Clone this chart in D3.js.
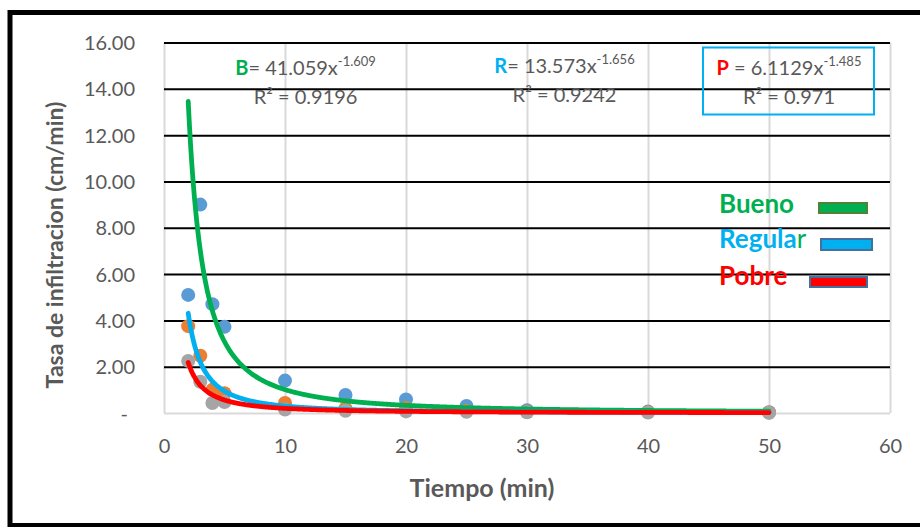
<!DOCTYPE html>
<html>
<head>
<meta charset="utf-8">
<script src="https://cdn.jsdelivr.net/npm/d3@7"></script>
<style>
  body { margin: 0; background: #fff; }
  svg { display: block; }
  text { font-family: Lato, "Open Sans", sans-serif; }
</style>
</head>
<body>
<div id="chart"></div>
<script>
// datos
const tiempo  = [2, 3, 4, 5, 10, 15, 20, 25, 30, 40, 50];
const bueno   = [5.1, 9.0, 4.7, 3.72, 1.4, 0.78, 0.58, 0.3, 0.12, 0.06, 0.03];
const regular = [3.75, 2.47, 1.0, 0.85, 0.43, 0.2, 0.22, 0.1, 0.05, 0.04, 0.02];
const pobre   = [2.25, 1.35, 0.43, 0.47, 0.15, 0.1, 0.07, 0.05, 0.03, 0.02, 0.01];

const xTicks = [0, 10, 20, 30, 40, 50, 60];
const yTicks = [0, 2, 4, 6, 8, 10, 12, 14, 16];

// ajustes potenciales y = a * x^b
const letras = ['B', 'R', 'P'];
const coefA  = [41.059, 13.573, 6.1129];
const expB   = [-1.609, -1.656, -1.485];
const r2     = ['0.9196', '0.9242', '0.971'];
const nombres = ['Bueno', 'Regular', 'Pobre'];

(function() {
    const width = 920,
          height = 527;
    const margin = {left: 164, right: 30, top: 42.5, bottom: 114};

    const ptColors = ['#5B9BD5', '#ED7D31', '#A5A5A5'];
    const lnColors = ['#00B050', '#00B0F0', '#FF0000'];
    const gray = '#595959';

    const xScale = d3.scaleLinear()
                    .domain([0, 60])
                    .range([margin.left, width - margin.right]);

    const yScale = d3.scaleLinear()
                    .domain([0, 16])
                    .range([height - margin.bottom, margin.top]);

    const svg = d3.select('#chart')
        .append('svg')
        .attr('width', width)
        .attr('height', height);

    // marco exterior
    svg.append('rect')
        .attr('x', 10).attr('y', 12.5)
        .attr('width', 1000).attr('height', 513)
        .attr('fill', 'none')
        .attr('stroke', '#000')
        .attr('stroke-width', 5);

    // lineas verticales de la cuadricula
    svg.append('g')
        .attr('transform', `translate(0, ${margin.top})`)
        .call(d3.axisBottom(xScale).tickValues(xTicks).tickSize(height - margin.bottom - margin.top).tickFormat(''))
        .call(g => g.select('.domain').remove())
        .call(g => g.selectAll('line').attr('stroke', '#D9D9D9').attr('stroke-width', 2));

    // lineas horizontales
    svg.append('g')
        .attr('transform', `translate(${margin.left}, 0)`)
        .call(d3.axisRight(yScale).tickValues(yTicks).tickSize(width - margin.left - margin.right).tickFormat(''))
        .call(g => g.select('.domain').remove())
        .call(g => g.selectAll('line')
            .attr('stroke', d => d === 0 ? '#D9D9D9' : '#000')
            .attr('stroke-width', 2));

    // eje y
    svg.append('g')
        .attr('transform', `translate(${margin.left - 29}, 0)`)
        .call(d3.axisLeft(yScale).tickValues(yTicks).tickSize(0)
            .tickFormat(d => d === 0 ? '-' : d.toFixed(2)))
        .call(g => g.select('.domain').remove())
        .call(g => g.selectAll('text')
            .attr('x', d => d === 0 ? -7 : 0)
            .attr('dy', '0.35em')
            .style('font-family', 'Lato, sans-serif')
            .style('font-size', '20px')
            .attr('fill', gray));

    // eje x
    svg.append('g')
        .attr('transform', `translate(0, ${height - margin.bottom})`)
        .call(d3.axisBottom(xScale).tickValues(xTicks).tickSize(0))
        .call(g => g.select('.domain').remove())
        .call(g => g.selectAll('text')
            .attr('y', 40)
            .attr('dy', 0)
            .style('font-family', 'Lato, sans-serif')
            .style('font-size', '20px')
            .attr('fill', gray));

    // titulos
    svg.append('text')
        .attr('x', 482).attr('y', 497)
        .attr('text-anchor', 'middle')
        .attr('font-weight', 'bold')
        .attr('font-size', 25)
        .attr('fill', gray)
        .text('Tiempo (min)');

    svg.append('text')
        .attr('transform', 'translate(63, 245) rotate(-90)')
        .attr('text-anchor', 'middle')
        .attr('font-weight', 'bold')
        .attr('font-size', 23)
        .attr('fill', gray)
        .text('Tasa de infiltracion (cm/min)');

    // puntos
    [bueno, regular, pobre].forEach((serie, i) => {
        svg.append('g')
            .selectAll('circle')
            .data(serie)
            .enter().append('circle')
            .attr('cx', (d, j) => xScale(tiempo[j]))
            .attr('cy', d => yScale(d))
            .attr('r', 7)
            .attr('fill', ptColors[i]);
    });

    // lineas de tendencia
    const xs = d3.range(2, 50.01, 0.1);
    const line = d3.line()
        .x(d => xScale(d[0]))
        .y(d => yScale(d[1]))
        .curve(d3.curveMonotoneX);

    coefA.forEach((a, i) => {
        svg.append('path')
            .datum(xs.map(x => [x, a * Math.pow(x, expB[i])]))
            .attr('d', line)
            .attr('fill', 'none')
            .attr('stroke', lnColors[i])
            .attr('stroke-width', 4.8)
            .attr('stroke-linecap', 'round');
    });

    // ecuaciones
    const eqX = [11.7, 33.1, 51.65];
    svg.append('rect')
        .attr('x', 703).attr('y', 47.5)
        .attr('width', 171).attr('height', 67)
        .attr('fill', 'none')
        .attr('stroke', '#00B0F0')
        .attr('stroke-width', 2);

    letras.forEach((l, i) => {
        const t = svg.append('text')
            .attr('x', xScale(eqX[i]))
            .attr('y', i === 1 ? 73 : 75)
            .attr('text-anchor', 'middle')
            .attr('font-size', 20)
            .attr('fill', gray);
        t.append('tspan')
            .attr('font-weight', 'bold')
            .attr('fill', lnColors[i])
            .text(l);
        t.append('tspan').text((i === 2 ? ' = ' : '= ') + coefA[i] + 'x');
        t.append('tspan')
            .attr('font-size', 13)
            .attr('dy', -9)
            .text(expB[i]);

        svg.append('text')
            .attr('x', xScale(eqX[i]))
            .attr('y', i === 1 ? 102 : 104)
            .attr('text-anchor', 'middle')
            .attr('font-size', 20)
            .attr('fill', gray)
            .text('R² = ' + r2[i]);
    });

    // leyenda
    const legY = [213, 248, 285];
    const swatch = [[819, 203, 48, 10], [821, 239, 51, 11], [810, 277, 57, 10]];
    const swStroke = ['#548235', '#41719C', '#41719C'];
    nombres.forEach((n, i) => {
        const t = svg.append('text')
            .attr('x', 719).attr('y', legY[i])
            .attr('font-weight', 'bold')
            .attr('font-size', 26)
            .attr('fill', lnColors[i]);
        if (i === 1) {
            t.append('tspan').text(n.slice(0, -1));
            t.append('tspan').attr('fill', lnColors[0]).attr('font-weight', 'normal').text(n.slice(-1));
        } else {
            t.text(n);
        }
        svg.append('rect')
            .attr('x', swatch[i][0]).attr('y', swatch[i][1])
            .attr('width', swatch[i][2]).attr('height', swatch[i][3])
            .attr('fill', lnColors[i])
            .attr('stroke', swStroke[i])
            .attr('stroke-width', 2);
    });
})();
</script>
</body>
</html>
